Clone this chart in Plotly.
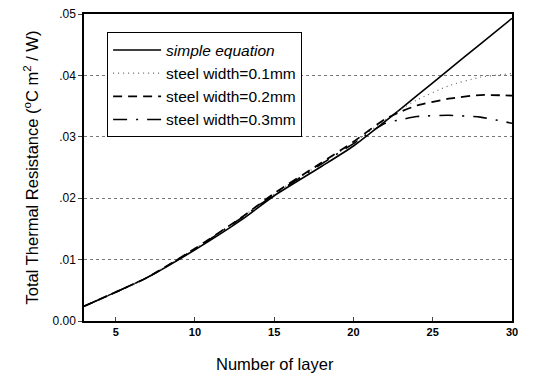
import plotly.graph_objects as go

layers = [3, 5, 7, 10, 13, 15, 18, 20, 22, 24, 26, 28, 30]
simple_eq = [0.0024, 0.0047, 0.0071, 0.0116, 0.0166, 0.0204, 0.0252, 0.0285, 0.0325, 0.0367, 0.0409, 0.0451, 0.0493]

layers_b = [3, 5, 7, 10, 13, 15, 18, 20, 22, 23, 24, 26, 28, 30]
steel_01 = [0.0024, 0.0047, 0.0071, 0.0118, 0.0170, 0.0207, 0.0257, 0.0290, 0.0328, 0.0345, 0.0360, 0.0383, 0.0397, 0.0403]
steel_02 = [0.0024, 0.0047, 0.0071, 0.0118, 0.0170, 0.0208, 0.0258, 0.0292, 0.0329, 0.0341, 0.0351, 0.0362, 0.0368, 0.0367]
steel_03 = [0.0024, 0.0047, 0.0071, 0.0117, 0.0169, 0.0206, 0.0256, 0.0289, 0.0322, 0.0328, 0.0333, 0.0335, 0.0332, 0.0322]

y_ticks = [0.0, 0.01, 0.02, 0.03, 0.04, 0.05]
y_labels = ["0.00", ".01", ".02", ".03", ".04", ".05"]
x_ticks = [5, 10, 15, 20, 25, 30]

fig = go.Figure()
fig.add_trace(go.Scatter(x=layers, y=simple_eq, mode="lines", name="<i>simple equation</i>",
                         line=dict(color="black", width=1.6, shape="spline", smoothing=0.6)))
fig.add_trace(go.Scatter(x=layers_b, y=steel_01, mode="lines", name="steel width=0.1mm",
                         line=dict(color="#666", width=1.2, dash="1px,4px", shape="spline", smoothing=0.6)))
fig.add_trace(go.Scatter(x=layers_b, y=steel_02, mode="lines", name="steel width=0.2mm",
                         line=dict(color="black", width=1.8, dash="9px,6px", shape="spline", smoothing=0.6)))
fig.add_trace(go.Scatter(x=layers_b, y=steel_03, mode="lines", name="steel width=0.3mm",
                         line=dict(color="black", width=1.6, dash="14px,9px,2px,9px", shape="spline", smoothing=0.6)))

fig.update_layout(
    width=540, height=381,
    margin=dict(l=84, r=28, t=14, b=60, autoexpand=False),
    paper_bgcolor="white", plot_bgcolor="white",
    font=dict(family="Liberation Sans, Arial, sans-serif", color="black", size=12),
    showlegend=True,
    legend=dict(x=0.054, y=0.94, xanchor="left", yanchor="top",
                bordercolor="black", borderwidth=1, bgcolor="white",
                font=dict(size=15.5), tracegroupgap=0, itemwidth=48),
    annotations=[dict(text="Number of layer", xref="paper", yref="paper",
                      x=0.447, y=-0.14, xanchor="center", yanchor="middle",
                      showarrow=False, font=dict(size=16.5))],
)
fig.update_xaxes(range=[3, 30], tickvals=x_ticks, ticks="inside", ticklen=4,
                 showline=True, linecolor="black", linewidth=1.5, mirror=True,
                 showgrid=False, zeroline=False, automargin=False,
                 tickfont=dict(size=11, family="Liberation Sans, Arial", weight="bold"))
fig.update_yaxes(range=[0, 0.05], tickvals=y_ticks, ticktext=y_labels, ticks="outside", ticklen=4,
                 showline=True, linecolor="black", linewidth=1.5, mirror=True,
                 showgrid=True, gridcolor="#777", griddash="dot", gridwidth=1,
                 zeroline=False, automargin=False,
                 tickfont=dict(size=12),
                 title=dict(text="Total Thermal Resistance (<sup>o</sup>C m<sup>2</sup> / W)",
                            font=dict(size=16.5), standoff=10))

fig.write_html("out.html", config={"displayModeBar": False},
               post_script="document.body.style.margin='0';")
